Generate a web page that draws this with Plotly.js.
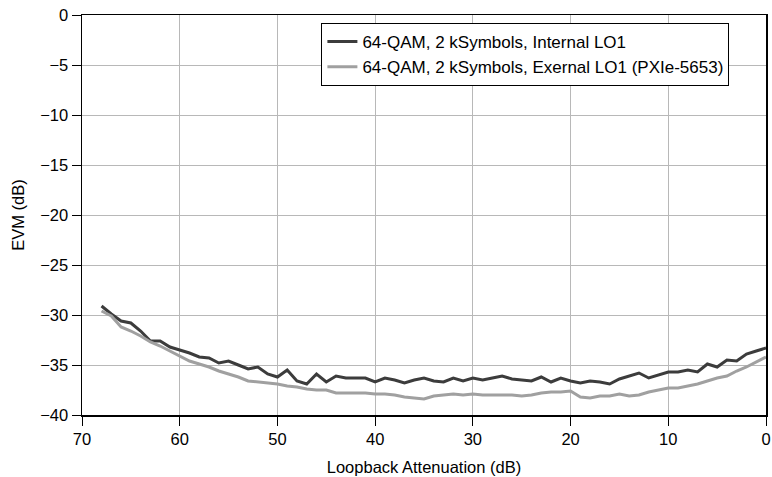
<!DOCTYPE html>
<html><head><meta charset="utf-8">
<script src="https://cdn.plot.ly/plotly-3.0.1.min.js"></script>
<style>html,body{margin:0;padding:0;background:#fff}</style>
</head><body>
<div id="chart" style="width:772px;height:477px"></div>
<script>
const attenuation = [68,67,66,65,64,63,62,61,60,59,58,57,56,55,54,53,52,51,50,49,48,47,46,45,44,43,42,41,40,39,38,37,36,35,34,33,32,31,30,29,28,27,26,25,24,23,22,21,20,19,18,17,16,15,14,13,12,11,10,9,8,7,6,5,4,3,2,1,0];
const evmInternal = [-29.1,-29.9,-30.6,-30.8,-31.6,-32.6,-32.6,-33.2,-33.5,-33.8,-34.2,-34.3,-34.8,-34.6,-35.0,-35.4,-35.2,-35.9,-36.2,-35.5,-36.6,-36.9,-35.9,-36.7,-36.1,-36.3,-36.3,-36.3,-36.7,-36.3,-36.5,-36.8,-36.5,-36.3,-36.6,-36.7,-36.3,-36.6,-36.3,-36.5,-36.3,-36.1,-36.4,-36.5,-36.6,-36.2,-36.7,-36.3,-36.6,-36.8,-36.6,-36.7,-36.9,-36.4,-36.1,-35.8,-36.3,-36.0,-35.7,-35.7,-35.5,-35.7,-34.9,-35.2,-34.5,-34.6,-33.9,-33.6,-33.3];
const evmExternal = [-29.6,-30.1,-31.2,-31.6,-32.1,-32.7,-33.1,-33.6,-34.1,-34.6,-34.9,-35.2,-35.6,-35.9,-36.2,-36.6,-36.7,-36.8,-36.9,-37.1,-37.2,-37.4,-37.5,-37.5,-37.8,-37.8,-37.8,-37.8,-37.9,-37.9,-38.0,-38.2,-38.3,-38.4,-38.1,-38.0,-37.9,-38.0,-37.9,-38.0,-38.0,-38.0,-38.0,-38.1,-38.0,-37.8,-37.7,-37.7,-37.6,-38.2,-38.3,-38.1,-38.1,-37.9,-38.1,-38.0,-37.7,-37.5,-37.3,-37.3,-37.1,-36.9,-36.6,-36.3,-36.1,-35.6,-35.2,-34.7,-34.2];
const seriesNames = ["64-QAM, 2 kSymbols, Internal LO1", "64-QAM, 2 kSymbols, Exernal LO1 (PXIe-5653)"];

const font = {family: "Liberation Sans, Arial, sans-serif", size: 16.5, color: "#000"};
const legendFont = {family: "Liberation Sans, Arial, sans-serif", size: 17, color: "#000"};
const data = [
  {x: attenuation, y: evmInternal, name: seriesNames[0], type: "scatter", mode: "lines", line: {color: "#3c3c3c", width: 3}},
  {x: attenuation, y: evmExternal, name: seriesNames[1], type: "scatter", mode: "lines", line: {color: "#a0a0a0", width: 3}}
];
const layout = {
  width: 772, height: 477,
  margin: {l: 82, r: 6, t: 15, b: 62},
  paper_bgcolor: "#fff", plot_bgcolor: "#fff",
  font: font,
  showlegend: true,
  legend: {x: 0.35, y: 0.98, xanchor: "left", yanchor: "top", bgcolor: "#fff", bordercolor: "#000", borderwidth: 1, font: legendFont, tracegroupgap: 0, itemwidth: 30},
  xaxis: {
    range: [70, 0], tickvals: [70,60,50,40,30,20,10,0], ticks: "outside", ticklen: 9, tickcolor: "#000",
    showline: true, linecolor: "#000", linewidth: 1.5, mirror: true,
    showgrid: true, gridcolor: "#b8b8b8", gridwidth: 1, zeroline: false,
    title: {text: "Loopback Attenuation (dB)", font: font, standoff: 14}, tickfont: font
  },
  yaxis: {
    range: [-40, 0], dtick: 5, ticks: "outside", ticklen: 9, tickcolor: "#000",
    showline: true, linecolor: "#000", linewidth: 1.5, mirror: true,
    showgrid: true, gridcolor: "#b8b8b8", gridwidth: 1, zeroline: false,
    title: {text: "EVM (dB)", font: font, standoff: 11}, tickfont: font
  }
};
Plotly.newPlot("chart", data, layout, {displayModeBar: false, staticPlot: true});
</script>
</body></html>
